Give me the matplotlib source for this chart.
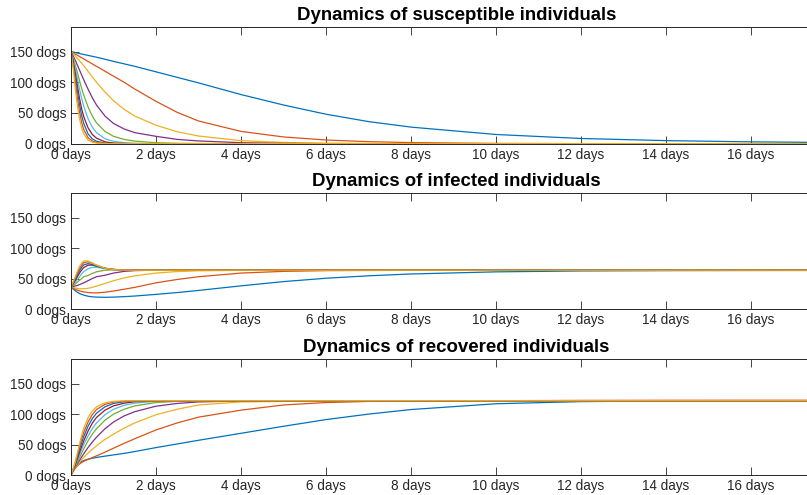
import matplotlib
matplotlib.use('Agg')
import matplotlib.pyplot as plt

plt.rcParams['font.family'] = ['Liberation Sans', 'DejaVu Sans']

# time points (days)
T = [0, 0.05, 0.1, 0.15, 0.2, 0.25, 0.3, 0.4, 0.5, 0.6, 0.8, 1.0, 1.25, 1.5,
     2, 2.5, 3, 4, 5, 6, 7, 8, 10, 12, 14, 16, 18.2]

# Susceptible dogs, one list per transmission scenario (slowest -> fastest)
s1 = [150, 149.2, 148.4, 147.6, 146.8, 146, 145.3, 143.8, 142.3, 140.8, 137.5, 134, 130, 126, 117, 108, 99, 80, 63, 48, 36, 27, 15, 8.5, 5, 3, 1.8]
s2 = [150, 148, 146, 144, 142, 140, 138, 134, 130, 126, 118, 110, 100, 89, 69, 51, 37, 20, 11, 6, 3.3, 1.8, 0.5, 0.15, 0.05, 0, 0]
s3 = [150, 146.5, 143, 139, 135, 131, 127, 118, 109, 100, 84, 70, 56, 45, 30, 19.5, 12.5, 5, 2, 0.8, 0.3, 0.1, 0, 0, 0, 0, 0]
s4 = [150, 143, 136, 128, 120, 112, 104, 89, 75, 63, 45, 33, 24, 18, 12, 7, 4.5, 1.6, 0.6, 0.2, 0.1, 0, 0, 0, 0, 0, 0]
s5 = [150, 140, 128, 116, 103, 90, 79, 60, 45, 34, 20, 12, 7, 4.2, 1.6, 0.7, 0.3, 0.05, 0, 0, 0, 0, 0, 0, 0, 0, 0]
s6 = [150, 137, 122, 106, 89, 74, 61, 41, 27, 18, 8, 3.8, 1.6, 0.7, 0.15, 0, 0, 0, 0, 0, 0, 0, 0, 0, 0, 0, 0]
s7 = [150, 134, 115, 94, 74, 57, 44, 26, 15, 9, 3, 1, 0.4, 0.1, 0, 0, 0, 0, 0, 0, 0, 0, 0, 0, 0, 0, 0]
s8 = [150, 131, 110, 86, 64, 46, 33, 16, 8, 4, 1, 0.3, 0.1, 0, 0, 0, 0, 0, 0, 0, 0, 0, 0, 0, 0, 0, 0]
s9 = [150, 128, 103, 74, 52, 35, 23, 10, 4.5, 2, 0.4, 0.1, 0, 0, 0, 0, 0, 0, 0, 0, 0, 0, 0, 0, 0, 0, 0]
s10 = [150, 124, 90, 62, 41, 26, 16, 6, 2.3, 0.9, 0.2, 0, 0, 0, 0, 0, 0, 0, 0, 0, 0, 0, 0, 0, 0, 0, 0]

# Infected dogs
i1 = [36.5, 33, 30, 27.5, 25.5, 24, 22.8, 21, 20, 19.5, 19.2, 19.5, 20.3, 21.3, 24, 27, 30.5, 38, 45, 50.5, 54.5, 57.5, 61, 62.5, 63, 63.2, 63.3]
i2 = [36.5, 34.5, 32.5, 31, 29.8, 28.8, 28, 27, 26.5, 26.5, 27.5, 29.5, 32.5, 35.5, 43, 48.5, 53, 59, 61.8, 63, 63.3, 63.5, 63.6, 63.6, 63.6, 63.6, 63.6]
i3 = [36.5, 35.5, 34.5, 33.8, 33.3, 33.2, 33.3, 34, 35.5, 37.5, 42, 46.5, 51, 54.5, 59, 61.5, 62.7, 63.5, 63.7, 63.7, 63.7, 63.7, 63.7, 63.7, 63.7, 63.7, 63.7]
i4 = [36.5, 37, 37.8, 38.8, 40, 41.5, 43, 46.5, 50, 53, 55.5, 59, 61.8, 63, 63.8, 63.8, 63.8, 63.8, 63.8, 63.8, 63.8, 63.8, 63.8, 63.8, 63.8, 63.8, 63.8]
i5 = [36.5, 38.5, 41, 44, 47, 50, 53, 55, 58.5, 61, 63.8, 64.2, 64.1, 64, 63.8, 63.8, 63.8, 63.8, 63.8, 63.8, 63.8, 63.8, 63.8, 63.8, 63.8, 63.8, 63.8]
i6 = [36.5, 40, 44, 48.5, 53, 57.5, 61.5, 66, 68.3, 68.5, 66.5, 65, 64.2, 63.9, 63.8, 63.8, 63.8, 63.8, 63.8, 63.8, 63.8, 63.8, 63.8, 63.8, 63.8, 63.8, 63.8]
i7 = [36.5, 41.5, 47, 53, 59, 64, 68, 72, 72, 70.5, 67, 65, 64.2, 63.9, 63.8, 63.8, 63.8, 63.8, 63.8, 63.8, 63.8, 63.8, 63.8, 63.8, 63.8, 63.8, 63.8]
i8 = [36.5, 42.5, 49, 56, 63, 68.5, 72.5, 74.5, 73, 70.5, 66.8, 64.8, 64.1, 63.9, 63.8, 63.8, 63.8, 63.8, 63.8, 63.8, 63.8, 63.8, 63.8, 63.8, 63.8, 63.8, 63.8]
i9 = [36.5, 43.5, 51, 59, 66.5, 72, 76, 77.5, 75, 72, 67, 64.8, 64, 63.9, 63.8, 63.8, 63.8, 63.8, 63.8, 63.8, 63.8, 63.8, 63.8, 63.8, 63.8, 63.8, 63.8]
i10 = [36.5, 44.5, 53, 62, 70, 75.5, 78.8, 79, 75.5, 72, 67, 64.7, 64, 63.8, 63.8, 63.8, 63.8, 63.8, 63.8, 63.8, 63.8, 63.8, 63.8, 63.8, 63.8, 63.8, 63.8]

# Recovered dogs
r1 = [0, 7, 12.5, 16.5, 19.5, 22, 23.8, 26, 27.5, 28.8, 31, 33, 35.5, 38.5, 45, 51, 57, 68.5, 80, 91, 100, 107.5, 117, 120.5, 121.5, 121.8, 122]
r2 = [0, 6, 11, 15, 18, 20.5, 22.5, 25.5, 28.5, 31.5, 37.5, 44, 52, 59.5, 74, 85.5, 95, 106.5, 115, 119, 120.8, 121.5, 122, 122.5, 122.7, 122.8, 122.8]
r3 = [0, 6, 11, 16, 20.5, 25, 29, 36, 42, 48, 58.5, 67, 77, 85.5, 99, 108, 115, 120, 120.8, 121, 121, 121, 121, 121, 121, 121, 121]
r4 = [0, 6.5, 12.5, 18.5, 24, 29.5, 35, 45, 54, 62, 76, 87, 97, 104, 113, 117.5, 120, 121.5, 122, 122, 122, 122, 122, 122, 122, 122, 122]
r5 = [0, 7, 14, 21, 28.5, 36, 43, 56, 67, 76, 90, 100, 108, 113.5, 119, 121, 121.7, 122, 122, 122, 122, 122, 122, 122, 122, 122, 122]
r6 = [0, 7.5, 15.5, 24, 33, 42, 50, 64, 76, 85.5, 99, 108, 114.5, 118, 121, 121.8, 122, 122, 122, 122, 122, 122, 122, 122, 122, 122, 122]
r7 = [0, 8, 17, 27, 37, 47, 56, 72, 85, 94.5, 106.5, 113.5, 118, 120.3, 121.7, 122, 122, 122, 122, 122, 122, 122, 122, 122, 122, 122, 122]
r8 = [0, 8.5, 18.5, 30, 42, 53, 63, 80, 92.5, 101.5, 112, 117.5, 120.3, 121.3, 122, 122, 122, 122, 122, 122, 122, 122, 122, 122, 122, 122, 122]
r9 = [0, 9, 20, 33, 46.5, 59, 70, 87, 99, 107.5, 116, 119.8, 121.3, 121.8, 122, 122, 122, 122, 122, 122, 122, 122, 122, 122, 122, 122, 122]
r10 = [0, 10, 22, 36, 51, 65, 77, 94, 105, 112, 118.5, 121, 121.8, 122, 122, 122, 122, 122, 122, 122, 122, 122, 122, 122, 122, 122, 122]

susceptible = [s1, s2, s3, s4, s5, s6, s7, s8, s9, s10]
infected = [i1, i2, i3, i4, i5, i6, i7, i8, i9, i10]
recovered = [r1, r2, r3, r4, r5, r6, r7, r8, r9, r10]

titles = ['Dynamics of susceptible individuals',
          'Dynamics of infected individuals',
          'Dynamics of recovered individuals']
x_ticks = [0, 2, 4, 6, 8, 10, 12, 14, 16]
x_tick_labels = [f'{v} days' for v in x_ticks]
y_ticks = [0, 50, 100, 150]
y_tick_labels = [f'{v} dogs' for v in y_ticks]

colors = ['#0072BD', '#D95319', '#EDB120', '#7E2F8E', '#77AC30', '#4DBEEE', '#A2142F']

W, H = 807, 495
px_per_day = 42.5
left_px = 71
width_px = 771
panels = [(27, 143.7), (193.3, 309), (359.3, 475)]
axis_col = '#262626'

fig = plt.figure(figsize=(W / 100, H / 100), dpi=100)
for (top, bot), data, title in zip(panels, [susceptible, infected, recovered], titles):
    ax = fig.add_axes([left_px / W, 1 - bot / H, width_px / W, (bot - top) / H])
    for k, series in enumerate(data):
        ax.plot(T, series, color=colors[k % len(colors)], lw=0.9, solid_joinstyle='round')
    ax.set_xlim(0, width_px / px_per_day)
    ax.set_ylim(0, 190)
    ax.set_xticks(x_ticks)
    ax.set_xticklabels(x_tick_labels)
    ax.set_yticks(y_ticks)
    ax.set_yticklabels(y_tick_labels)
    ax.tick_params(direction='in', length=5.5, width=0.6, colors=axis_col,
                   labelsize=9.75, top=True, right=False)
    ax.tick_params(axis='x', pad=3.2)
    ax.tick_params(axis='y', pad=3.5)
    for side in ['left', 'bottom', 'top']:
        ax.spines[side].set_color(axis_col)
        ax.spines[side].set_linewidth(0.7)
    ax.spines['right'].set_visible(False)
    ax.set_title(title, fontsize=13.4, fontweight='bold', pad=5, color='black')

fig.savefig('out.png', dpi=100)
